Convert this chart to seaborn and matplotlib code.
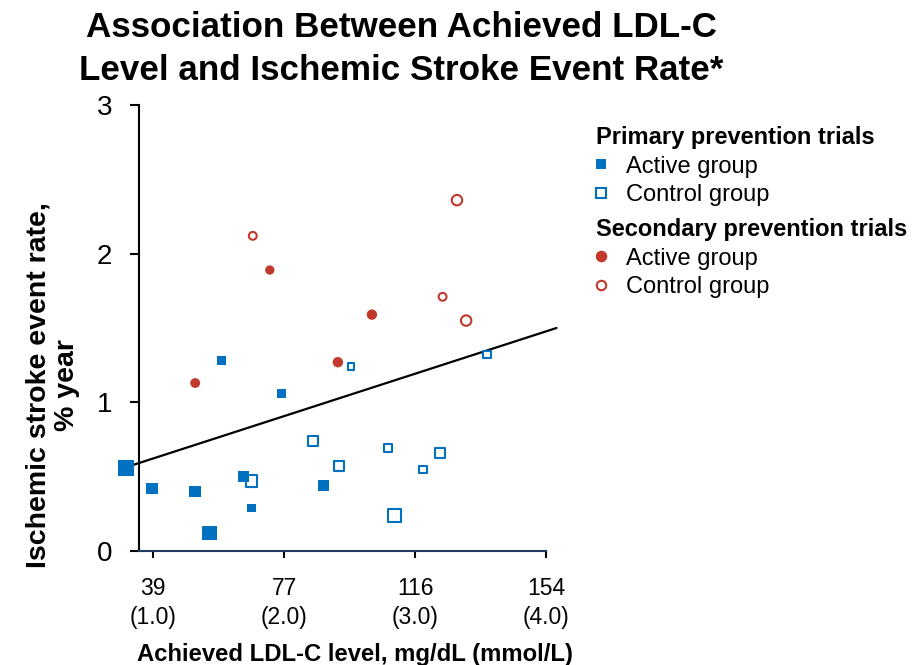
import matplotlib
matplotlib.use("Agg")
import matplotlib.pyplot as plt
from matplotlib.lines import Line2D
import pandas as pd
import seaborn as sns

# achieved LDL-C in mmol/L (x), ischemic stroke rate in %/year (y),
# weight = marker area (trial size)
prim_active_x = [0.79, 0.99, 1.32, 1.43, 1.52, 1.69, 1.75, 1.98, 2.30]
prim_active_y = [0.56, 0.42, 0.40, 0.12, 1.28, 0.50, 0.29, 1.06, 0.44]
prim_active_w = [125, 72, 72, 110, 40, 60, 34, 40, 72]

prim_control_x = [1.75, 2.22, 2.42, 2.51, 2.79, 2.84, 3.06, 3.19, 3.55]
prim_control_y = [0.47, 0.74, 0.57, 1.24, 0.69, 0.24, 0.55, 0.66, 1.32]
prim_control_w = [66, 50, 56, 21, 32, 86, 28, 50, 28]

sec_active_x = [1.32, 1.89, 2.41, 2.67]
sec_active_y = [1.13, 1.89, 1.27, 1.59]
sec_active_w = [50, 45, 56, 56]

sec_control_x = [1.76, 3.21, 3.32, 3.39]
sec_control_y = [2.12, 1.71, 2.36, 1.55]
sec_control_w = [32, 32, 56, 56]

# regression line end points
fit_x = [0.85, 4.08]
fit_y = [0.58, 1.50]

x_ticks = [1.0, 2.0, 3.0, 4.0]
x_tick_labels = ["39\n(1.0)", "77\n(2.0)", "116\n(3.0)", "154\n(4.0)"]
y_ticks = [0, 1, 2, 3]

BLUE = "#0070C0"
RED = "#C0392B"
NAVY = "#1F3A60"

sns.set_theme(style="ticks")
plt.rcParams["font.family"] = ["Liberation Sans", "DejaVu Sans"]
plt.rcParams["text.color"] = "black"

fig = plt.figure(figsize=(9.17, 6.65), dpi=100)
ax = fig.add_axes([139.3 / 917, 114 / 665, 406.7 / 917, 446 / 665])


def draw_group(x, y, w, marker, face, edge, lw):
    df = pd.DataFrame({"x": x, "y": y})
    sns.scatterplot(data=df, x="x", y="y", s=w, marker=marker, color=face,
                    edgecolor=edge, linewidth=lw, legend=False, clip_on=False,
                    zorder=3, ax=ax)


sns.lineplot(x=fit_x, y=fit_y, color="black", lw=1.6, ax=ax, clip_on=False, zorder=2)

draw_group(prim_control_x, prim_control_y, prim_control_w, "s", "white", BLUE, 1.5)
draw_group(prim_active_x, prim_active_y, prim_active_w, "s", BLUE, "none", 0)
draw_group(sec_control_x, sec_control_y, sec_control_w, "o", "white", RED, 1.5)
draw_group(sec_active_x, sec_active_y, sec_active_w, "o", RED, "none", 0)

ax.set_xlim(0.893, 4.0)
ax.set_ylim(0, 3)
ax.set_xticks(x_ticks, x_tick_labels)
ax.set_yticks(y_ticks)
ax.spines["top"].set_visible(False)
ax.spines["right"].set_visible(False)
ax.spines["left"].set_color("black")
ax.spines["left"].set_linewidth(1.5)
ax.spines["bottom"].set_color(NAVY)
ax.spines["bottom"].set_linewidth(1.5)
ax.tick_params(axis="y", left=True, length=6.5, width=1.5, color="black",
               labelcolor="black", labelsize=20, pad=13)
ax.tick_params(axis="x", bottom=True, length=5, width=1.5, color="black",
               labelcolor="black", labelsize=16.5, pad=14)
for lab in ax.get_xticklabels():
    lab.set_linespacing(1.3)

ax.set_ylabel("Ischemic stroke event rate,\n% year", fontsize=20.5,
              fontweight="bold", color="black", linespacing=1.15)
ax.yaxis.label.set_va("center")
ax.yaxis.set_label_coords(-0.2122, 0.372)
ax.set_xlabel("Achieved LDL-C level, mg/dL (mmol/L)", fontsize=17.2,
              fontweight="bold", color="black")
ax.xaxis.label.set_va("center")
ax.xaxis.set_label_coords(0.530, -0.231)

fig.suptitle("Association Between Achieved LDL-C\nLevel and Ischemic Stroke Event Rate*",
             x=401 / 917, y=1 - 49 / 665, va="center", fontsize=25.2,
             fontweight="bold", linespacing=1.42)

# legend
h_pa = Line2D([], [], ls="none", marker="s", ms=7.3, mfc=BLUE, mec=BLUE, mew=0)
h_pc = Line2D([], [], ls="none", marker="s", ms=6.5, mfc="white", mec=BLUE, mew=1.5)
h_sa = Line2D([], [], ls="none", marker="o", ms=8.3, mfc=RED, mec=RED, mew=0)
h_sc = Line2D([], [], ls="none", marker="o", ms=6.8, mfc="white", mec=RED, mew=1.5)

leg_kw = dict(loc="upper left", frameon=False, fontsize=17,
              title_fontproperties={"weight": "bold", "size": 17},
              handlelength=0.4, handletextpad=0.85, borderpad=0, borderaxespad=0,
              labelspacing=0.28, alignment="left")
leg1 = fig.legend([h_pa, h_pc], ["Active group", "Control group"],
                  title="Primary prevention trials",
                  bbox_to_anchor=(596 / 917, 1 - 126 / 665), **leg_kw)
leg2 = fig.legend([h_sa, h_sc], ["Active group", "Control group"],
                  title="Secondary prevention trials",
                  bbox_to_anchor=(596 / 917, 1 - 218 / 665), **leg_kw)

fig.savefig("out.png", dpi=100)
